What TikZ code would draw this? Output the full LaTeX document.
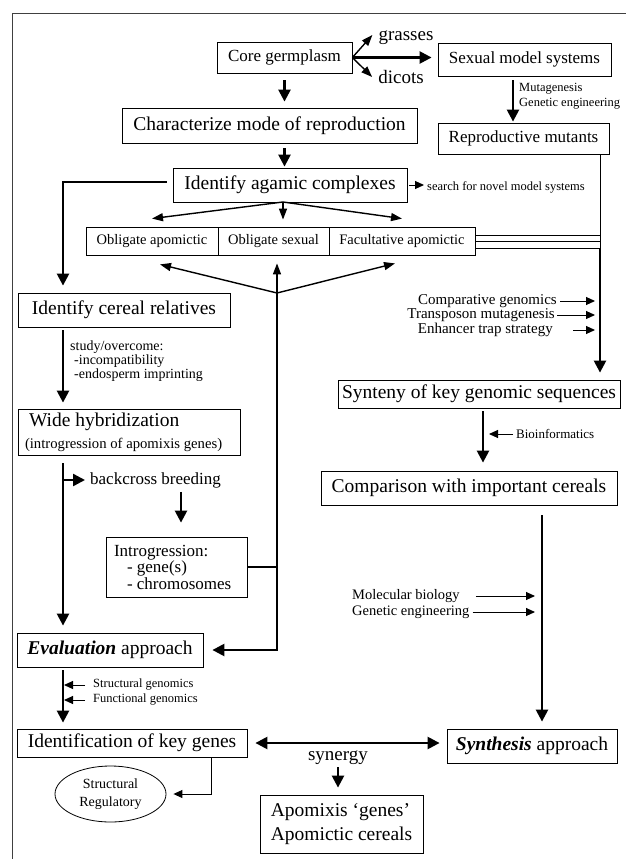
\documentclass[tikz,border=0pt]{standalone}
\usepackage{fontspec}
\setmainfont{Liberation Serif}
\usetikzlibrary{arrows.meta,shapes.geometric,calc}

\tikzset{
  box/.style={draw,line width=.8pt,inner sep=0pt,font=\fontsize{19.5}{22}\selectfont},
  mid/.style={box,font=\fontsize{17}{19}\selectfont},
  opt/.style={box,minimum height=28pt,font=\fontsize{14.5}{16}\selectfont},
  lbl/.style={inner sep=0pt,font=\fontsize{17}{19}\selectfont},
  note/.style={inner sep=0pt,align=left,font=\fontsize{14.5}{14}\selectfont},
  tiny/.style={inner sep=0pt,align=left,font=\fontsize{12.5}{15}\selectfont},
  arr/.style={line width=1pt,-{Triangle[length=9pt,width=8pt]}},
  midarr/.style={line width=1.4pt,-{Triangle[length=11pt,width=8pt]}},
  fat/.style={line width=2.4pt,-{Triangle[length=12pt,width=12pt]}},
  fatline/.style={line width=2.2pt}
}

\begin{document}
\begin{tikzpicture}[x=1pt,y=-1pt]
  \useasboundingbox (0,0) rectangle (626,859);
  \draw[line width=.8pt,black!75] (12,859) -- (12,13) -- (626,13);

  % boxes
  \node[mid,minimum width=135pt,minimum height=31pt] (core) at (284.5,57.5) {Core germplasm};
  \node[mid,minimum width=173pt,minimum height=33pt] (sexual) at (524.5,59.5) {Sexual model systems};
  \node[mid,minimum width=171pt,minimum height=31pt] (mutants) at (523.5,138.5) {Reproductive mutants};
  \node[box,minimum width=295pt,minimum height=35pt] (mode) at (269.5,125.5) {Characterize mode of reproduction};
  \node[box,minimum width=234pt,minimum height=34pt] (agamic) at (290,185) {Identify agamic complexes};
  \node[opt,minimum width=132pt] (oa) at (152,241) {Obligate apomictic};
  \node[opt,minimum width=111pt] (os) at (273.5,241) {Obligate sexual};
  \node[opt,minimum width=146pt] (fa) at (402,241) {Facultative apomictic};
  \node[box,minimum width=212pt,minimum height=34pt] (cereal) at (124,310) {Identify cereal relatives};
  \node[box,text width=208pt,inner xsep=7pt,minimum height=46pt,align=flush left] (wide) at (129,432)
    {\hspace*{4pt}Wide hybridization\\{\fontsize{14.7}{16}\selectfont(introgression of apomixis genes)}};
  \node[box,text width=125pt,inner xsep=8pt,minimum height=60pt,align=flush left,
    font=\fontsize{17}{16.5}\selectfont] (introg) at (176.5,567)
    {Introgression:\\\hspace*{13pt}- gene(s)\\\hspace*{13pt}- chromosomes};
  \node[box,minimum width=186pt,minimum height=34pt] (eval) at (110,650) {\textbf{\textit{Evaluation}} approach};
  \node[box,minimum width=230pt,minimum height=28pt] (genes) at (132,743) {Identification of key genes};
  \node[box,minimum width=170pt,minimum height=34pt] (synth) at (532,746) {\textbf{\textit{Synthesis}} approach};
  \node[box,minimum width=282pt,minimum height=28pt] (synteny) at (479,394) {Synteny of key genomic sequences};
  \node[box,minimum width=296pt,minimum height=34pt] (compare) at (469,488) {Comparison with important cereals};
  \node[box,minimum width=163pt,minimum height=58pt,align=left,font=\fontsize{19.5}{24}\selectfont] (apomixis) at (341.5,824)
    {Apomixis ‘genes’\\Apomictic cereals};
  \node[ellipse,draw,line width=.8pt,minimum width=111pt,minimum height=56pt,inner sep=0pt,align=center,
    font=\fontsize{14}{18}\selectfont] (roles) at (110.5,794) {Structural\\Regulatory};

  % labels
  \node[lbl,font=\fontsize{19}{20}\selectfont] (grasses) at (406,38) {grasses};
  \node[lbl,font=\fontsize{19}{20}\selectfont] (dicots) at (401,77) {dicots};
  \node[tiny,anchor=west] (mutag) at (519,96) {Mutagenesis\\Genetic engineering};
  \node[tiny,anchor=west] (search) at (427,187) {search for novel model systems};
  \node[note,anchor=north west,font=\fontsize{14}{12.5}\selectfont] (study) at (70,341)
    {study/overcome:\\\hspace*{4pt}-incompatibility\\\hspace*{4pt}-endosperm imprinting};
  \node[lbl,anchor=west] (backcross) at (90,480) {backcross breeding};
  \node[tiny,anchor=west] (sg) at (93,685) {Structural genomics};
  \node[tiny,anchor=west] (fg) at (93,700) {Functional genomics};
  \node[note,anchor=east,font=\fontsize{15}{15}\selectfont] (cg) at (557,301) {Comparative genomics};
  \node[note,anchor=east,font=\fontsize{15}{15}\selectfont] (tm) at (555,315) {Transposon mutagenesis};
  \node[note,anchor=east,font=\fontsize{15}{15}\selectfont] (et) at (553,330) {Enhancer trap strategy};
  \node[tiny,anchor=west,font=\fontsize{13}{14}\selectfont] (bio) at (516,434) {Bioinformatics};
  \node[note,anchor=west] (mb) at (352,596) {Molecular biology};
  \node[note,anchor=west] (ge) at (352,612) {Genetic engineering};
  \node[lbl,font=\fontsize{19}{20}\selectfont] (synergy) at (338,758) {synergy};

  % guide points
  \coordinate (spine) at (63,0);
  \coordinate (hub) at (277,293);
  \coordinate (split) at (283,202);
  \coordinate (rail) at (600,248);
  \coordinate (mx) at (513,0);
  \coordinate (bx) at (181,0);
  \coordinate (gx) at (211,0);
  \coordinate (sx) at (483,0);
  \coordinate (cx) at (542,0);

  % top of the chart
  \draw[fat,shorten <=7pt,shorten >=6pt] (core.south) -- (core.south |- mode.north);
  \draw[fat,shorten <=5pt,shorten >=1pt] (core.south |- mode.south) -- (core.south |- agamic.north);
  \draw[fat,shorten >=6pt] (core.east) -- (core.east -| sexual.west);
  \draw[midarr] (core.east) -- ([shift={(-6pt,3pt)}]grasses.west);
  \draw[midarr] (core.east) -- ([xshift=-6pt]dicots.west);
  \draw[fat,shorten <=4pt,shorten >=1pt] (mx |- sexual.south) -- (mx |- mutants.north);
  \draw[arr,shorten <=2pt,shorten >=3pt] (agamic.east) -- (agamic.east -| search.west);

  % agamic complexes
  \foreach \t in {oa,fa}
    \draw[midarr] (split) -- ($(\t.north)+(0,-8)$);
  \draw[midarr,shorten >=7pt] (split) -- (split |- os.north);
  \draw[midarr] (hub) -- ($(oa.south)+(8,9)$);
  \draw[midarr,shorten >=8pt] (hub) -- (hub |- os.south);
  \draw[midarr] (hub) -- ($(fa.south)+(-7,8)$);
  \draw[fat,shorten >=9pt] (hub) |- (eval.east);
  \draw[fatline] (introg.east) -- (introg.east -| hub);

  % left column
  \draw[fat,shorten <=6pt,shorten >=7pt] ([yshift=3pt]agamic.west) -| (spine |- cereal.north);
  \draw[fat,shorten <=3pt,shorten >=6pt] (spine |- cereal.south) -- (spine |- wide.north);
  \draw[fat,shorten <=8pt,shorten >=7pt] (spine |- wide.south) -- (spine |- eval.north);
  \draw[fat,shorten >=5pt] (spine |- backcross.west) -- (backcross.west);
  \draw[fat,shorten <=4pt,shorten >=14pt] (bx |- backcross.south) -- (bx |- introg.north);
  \draw[fat,shorten <=3pt,shorten >=6pt] (spine |- eval.south) -- (spine |- genes.north);
  \foreach \l in {sg,fg}
    \draw[arr,shorten <=8pt,shorten >=1pt] (\l.west) -- (\l.west -| spine);
  \draw[arr,shorten >=7pt] (gx |- genes.south) |- (roles.east);

  % right column
  \draw[line width=.8pt] (mutants.south -| rail) -- (rail);
  \foreach \dy in {6,0,-7}
    \draw[line width=.8pt] ([yshift=\dy pt]fa.east) -- ++(125,0);
  \draw[fat,shorten >=7pt] (rail) -- (rail |- synteny.north);
  \foreach \l/\s in {cg/3,tm/2,et/20}
    \draw[arr,shorten <=\s pt,shorten >=5pt] (\l.east) -- (\l.east -| rail);
  \draw[fat,shorten <=3pt,shorten >=8pt] (sx |- synteny.south) -- (sx |- compare.north);
  \draw[arr,shorten <=3pt,shorten >=6pt] (bio.west) -- (bio.west -| sx);
  \draw[fat,shorten <=10pt,shorten >=7pt] (cx |- compare.south) -- (cx |- synth.north);
  \foreach \l/\s in {mb/16,ge/3}
    \draw[arr,shorten <=\s pt,shorten >=7pt] (\l.east) -- (\l.east -| cx);

  % bottom
  \draw[fat,{Triangle[length=12pt,width=12pt]}-{Triangle[length=12pt,width=12pt]},
    shorten <=8pt,shorten >=7pt] (genes.east) -- (genes.east -| synth.west);
  \draw[fat,shorten <=2pt,shorten >=7pt] (synergy.south) -- (synergy.south |- apomixis.north);
\end{tikzpicture}
\end{document}
